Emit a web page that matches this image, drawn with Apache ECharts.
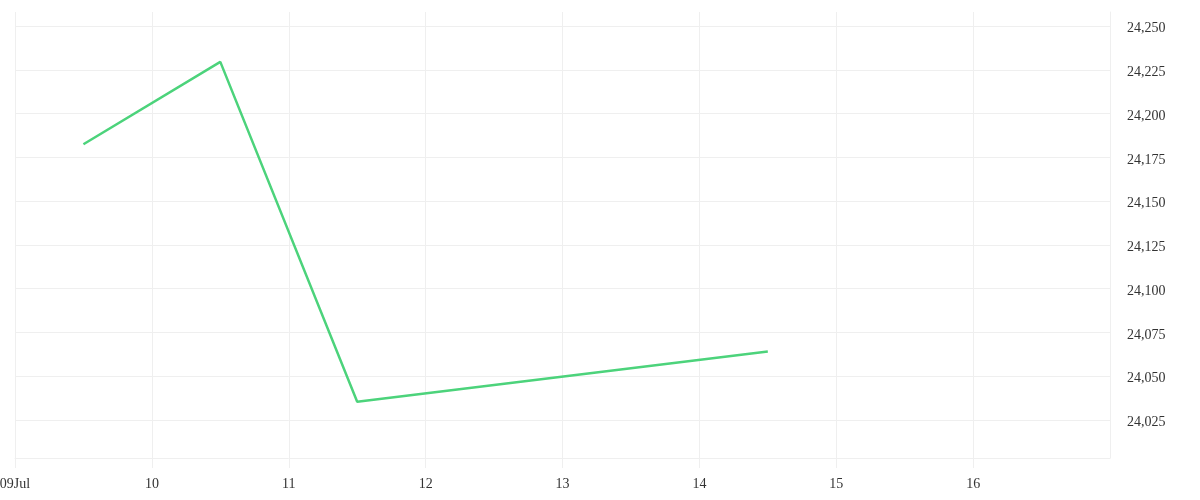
<!doctype html>
<html>
<head>
<meta charset="utf-8">
<title>Line</title>
<script src="https://cdn.jsdelivr.net/npm/echarts@6/dist/echarts.min.js"></script>
<style>
	html,body{margin:0;padding:0;background:#fff;}
	#chart{width:1200px;height:500px;}
</style>
</head>
<body>
<div id="chart"></div>
<script type="text/javascript">
var dates = ['2024-07-09T12:00:00Z', '2024-07-10T12:00:00Z', '2024-07-11T12:00:00Z', '2024-07-14T12:00:00Z'];
var values = [24182.5, 24229.5, 24035.4, 24064.1];
var yTicks = [24025, 24050, 24075, 24100, 24125, 24150, 24175, 24200, 24225, 24250];
var xStart = '2024-07-09T00:00:00Z';
var xEnd = '2024-07-17T00:00:00Z';
var monthName = 'Jul';

var DAY = 86400000;
var gridColor = '#efefef';
var textColor = '#333';
var font = 'Liberation Serif';

var seriesData = [];
for (var i = 0; i < dates.length; i++) {
	seriesData.push([Date.parse(dates[i]), values[i]]);
}

function pad2(n){
	return n < 10 ? '0' + n : '' + n;
}

var option = {
	animation: false,
	grid: {
		left: 15,
		right: 90,
		top: 12,
		bottom: 42,
		containLabel: false,
		outerBoundsMode: 'none'
	},
	xAxis: {
		type: 'value',
		min: Date.parse(xStart),
		max: Date.parse(xEnd),
		interval: DAY,
		axisLine: {show: true, lineStyle: {color: gridColor}},
		axisTick: {show: true, length: 10, lineStyle: {color: gridColor}},
		axisLabel: {
			color: textColor,
			fontFamily: font,
			fontSize: 14,
			margin: 19,
			showMaxLabel: false,
			formatter: function(v, idx){
				var d = new Date(v);
				var s = pad2(d.getUTCDate());
				return idx === 0 ? s + monthName : s;
			}
		},
		splitLine: {show: true, lineStyle: {color: gridColor}}
	},
	yAxis: {
		type: 'value',
		position: 'right',
		min: 24003.3,
		max: 24258,
		scale: true,
		axisLine: {show: true, lineStyle: {color: gridColor}},
		axisTick: {show: false, customValues: yTicks},
		axisLabel: {
			color: textColor,
			fontFamily: font,
			fontSize: 14,
			margin: 17,
			verticalAlign: 'top',
			lineHeight: 5,
			customValues: yTicks,
			formatter: function(v){
				return echarts.format.addCommas(v);
			}
		},
		splitLine: {show: true, lineStyle: {color: gridColor}}
	},
	series: [
		{
			type: 'line',
			data: seriesData,
			symbol: 'none',
			lineStyle: {color: '#4cd37b', width: 2.5},
			itemStyle: {color: '#4cd37b'}
		}
	]
};
echarts.init(document.getElementById('chart')).setOption(option);
</script>
</body>
</html>
